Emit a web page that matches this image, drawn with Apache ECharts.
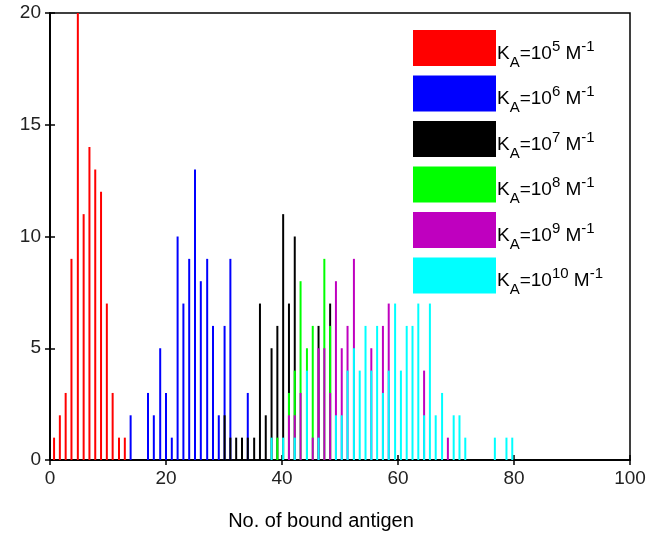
<!DOCTYPE html>
<html>
<head>
<meta charset="utf-8">
<script src="https://cdn.jsdelivr.net/npm/echarts@6/dist/echarts.min.js"></script>
<style>
  html, body { margin: 0; padding: 0; background: #fff; }
  #chart { width: 652px; height: 548px; }
</style>
</head>
<body>
<div id="chart"></div>
<script>
// bin centres, one list of positions + one list of counts per series
const redX = [0.7, 1.7, 2.7, 3.7, 4.8, 5.8, 6.8, 7.8, 8.8, 9.8, 10.8, 11.9, 12.9]
const redY = [1, 2, 3, 9, 20, 11, 14, 13, 12, 7, 3, 1, 1]

const blueX = [13.9, 16.9, 17.9, 19.0, 20.0, 21.0, 22.0, 23.0, 24.0, 25.0, 26.0, 27.1, 28.1, 29.1, 30.1, 31.1, 34.1]
const blueY = [2, 3, 2, 5, 3, 1, 10, 7, 9, 13, 8, 9, 6, 2, 6, 9, 3]

const blackX = [30.1, 31.1, 32.1, 33.1, 34.1, 35.2, 36.2, 37.2, 38.2, 39.2, 40.2, 41.2, 42.2, 46.3, 48.3]
const blackY = [2, 1, 1, 1, 1, 1, 7, 2, 5, 6, 11, 7, 10, 6, 7]

const greenX = [39.2, 41.2, 42.2, 43.2, 44.3, 45.3, 47.3, 48.3]
const greenY = [1, 3, 4, 8, 5, 6, 9, 6]

const magentaX = [41.2, 42.2, 43.2, 45.3, 46.3, 47.3, 48.3, 49.3, 50.3, 51.3, 52.4, 55.4, 57.4, 58.4, 64.5, 68.6]
const magentaY = [2, 2, 3, 1, 5, 5, 3, 8, 5, 6, 9, 5, 6, 7, 4, 1]

const cyanX = [38.2, 40.2, 42.2, 44.3, 46.3, 49.3, 50.3, 51.3, 52.4, 53.4, 54.4, 55.4, 56.4, 57.4, 58.4,
  59.5, 60.5, 61.5, 62.5, 63.5, 64.5, 65.5, 66.5, 67.6, 69.6, 70.6, 71.6, 76.7, 78.7, 79.7]
const cyanY = [1, 1, 1, 4, 1, 2, 2, 4, 5, 4, 6, 4, 6, 3, 4,
  7, 4, 6, 6, 7, 2, 7, 2, 3, 2, 2, 1, 1, 1, 1]

const exponents = ['5', '6', '7', '8', '9', '10']
const colors = ['#ff0000', '#0000ff', '#000000', '#00ff00', '#bf00bf', '#00ffff']
const seriesX = [redX, blueX, blackX, greenX, magentaX, cyanX]
const seriesY = [redY, blueY, blackY, greenY, magentaY, cyanY]

const xTitle = 'No. of bound antigen'
const names = exponents.map((e) => 'KA=10^' + e + ' M^-1')

const font = 'Liberation Sans, Arial, sans-serif'

const series = names.map((name, i) => ({
  name,
  type: 'bar',
  barWidth: 2,
  barGap: '-100%',
  itemStyle: { color: colors[i] },
  data: seriesX[i].map((x, j) => [x, seriesY[i][j]])
}))

// empty series so the top / right mirror axes get drawn (box with inward ticks)
series.push({ type: 'line', xAxisIndex: 1, yAxisIndex: 1, data: [], silent: true })

const axisLine = { show: true, lineStyle: { color: '#000', width: 1.5 } }
const axisTick = { show: true, inside: true, length: 5, lineStyle: { color: '#000', width: 1.5 } }

const option = {
  animation: false,
  backgroundColor: '#fff',
  grid: { left: 50, right: 22, top: 13, bottom: 88, show: true, borderColor: '#000', borderWidth: 1.5 },
  legend: {
    orient: 'vertical',
    left: 413,
    top: 26,
    padding: 0,
    itemWidth: 83,
    itemHeight: 36,
    itemGap: 1.5,
    icon: 'rect',
    data: names,
    formatter: (name) => {
      const e = exponents[names.indexOf(name)]
      return '{k|K}{sub|A}{k|=10}{sup|' + e + '}{k| M}{sup|-1}'
    },
    textStyle: {
      padding: [0, 0, 0, -4],
      lineHeight: 44,
      rich: {
        k: { fontFamily: font, fontSize: 19, color: '#000', verticalAlign: 'top', padding: [18, 0, 0, 0] },
        sub: { fontFamily: font, fontSize: 15, color: '#000', verticalAlign: 'top', padding: [29, 0, 0, 0] },
        sup: { fontFamily: font, fontSize: 15, color: '#000', verticalAlign: 'top', padding: [13, 0, 0, 0] }
      }
    }
  },
  xAxis: [
    {
      type: 'value',
      min: 0,
      max: 100,
      interval: 20,
      name: xTitle,
      nameLocation: 'middle',
      nameGap: 51,
      nameTextStyle: { fontFamily: font, fontSize: 20, color: '#000', padding: [0, 38, 0, 0] },
      axisLine,
      axisTick,
      splitLine: { show: false },
      axisLabel: { fontFamily: font, fontSize: 19, color: '#222', margin: 9 }
    },
    {
      type: 'value',
      position: 'top',
      min: 0,
      max: 100,
      interval: 20,
      axisLine,
      axisTick,
      splitLine: { show: false },
      axisLabel: { show: false }
    }
  ],
  yAxis: [
    {
      type: 'value',
      min: 0,
      max: 20,
      interval: 5,
      axisLine,
      axisTick,
      splitLine: { show: false },
      axisLabel: { fontFamily: font, fontSize: 19, color: '#222', margin: 9 }
    },
    {
      type: 'value',
      position: 'right',
      min: 0,
      max: 20,
      interval: 5,
      axisLine,
      axisTick,
      splitLine: { show: false },
      axisLabel: { show: false }
    }
  ],
  series
}

const chart = echarts.init(document.getElementById('chart'))
chart.setOption(option)
</script>
</body>
</html>
